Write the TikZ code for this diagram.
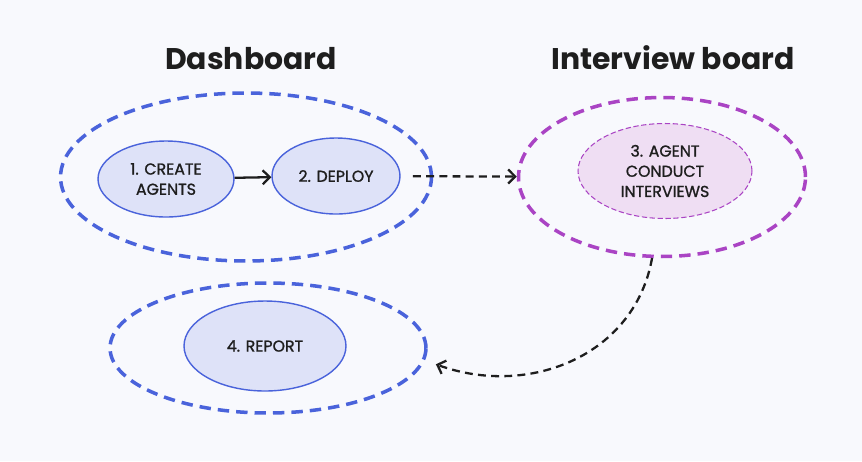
\documentclass[tikz,border=0pt]{standalone}
\usepackage{fontspec}
\setmainfont{Poppins}
\newfontfamily\stepfont{Poppins}[FakeBold=1.2]
\usepackage{tikz}
\usetikzlibrary{arrows.meta}
\usetikzlibrary{shapes.geometric}
\usetikzlibrary{positioning}
\definecolor{bg}{RGB}{248,249,253}
\definecolor{boardblue}{RGB}{74,99,219}
\definecolor{stepblue}{RGB}{222,226,248}
\definecolor{boardpurple}{RGB}{170,68,196}
\definecolor{steppurple}{RGB}{239,222,243}
\definecolor{ink}{RGB}{30,30,30}

\tikzset{
  board/.style={ellipse, draw, line width=2pt, dash pattern=on 6.5pt off 4pt, inner sep=0pt},
  stepnode/.style={ellipse, draw=boardblue, line width=0.8pt, fill=stepblue, inner sep=0pt, align=center, text=ink, font=\stepfont\fontsize{9}{11.5}\selectfont},
  title/.style={font=\fontsize{17}{20}\selectfont\bfseries, text=ink, anchor=base},
  flow/.style={-{Straight Barb[length=4pt,width=8pt]}, line width=1.3pt, draw=ink},
  link/.style={flow, dash pattern=on 4.5pt off 3pt},
}

\begin{document}
\begin{tikzpicture}[x=0.02cm, y=-0.02cm]
		\fill[bg] (0,0) rectangle (862,461);
		\useasboundingbox (0,0) rectangle (862,461);

		% titles
		\node (tdash) at (251,69) [title] {Dashboard};
		\node (tint) at (673,69) [title] {Interview board};

		% boards
		\node (dboard) at (246,177) [board, draw=boardblue, minimum width=7.42cm, minimum height=3.36cm] {};
		\node (iboard) at (662,177) [board, draw=boardpurple, minimum width=5.74cm, minimum height=3.18cm] {};
		\node (rboard) at (268,348) [board, draw=boardblue, minimum width=6.32cm, minimum height=2.6cm] {};

		% steps
		\node (create) at (166,179) [stepnode, minimum width=2.72cm, minimum height=1.52cm] {1. CREATE\\AGENTS};
		\node (deploy) at (336,176) [stepnode, minimum width=2.56cm, minimum height=1.52cm] {2. DEPLOY};
		\node (conduct) at (665,171) [stepnode, draw=boardpurple, fill=steppurple, line width=0.6pt, dash pattern=on 3pt off 1.5pt, minimum width=3.48cm, minimum height=1.9cm] {3. AGENT\\CONDUCT\\INTERVIEWS};
		\node (report) at (265,346) [stepnode, minimum width=3.24cm, minimum height=1.8cm] {4. REPORT};

		% connectors
		\draw[flow] (create) -- (deploy);
		\draw[link, shorten <=7pt] (deploy) -- (iboard);
		\draw[link] (iboard.-97) to[out=-100, in=-20, looseness=1.05] ([xshift=0.26cm]rboard.-6);
	\end{tikzpicture}
\end{document}
